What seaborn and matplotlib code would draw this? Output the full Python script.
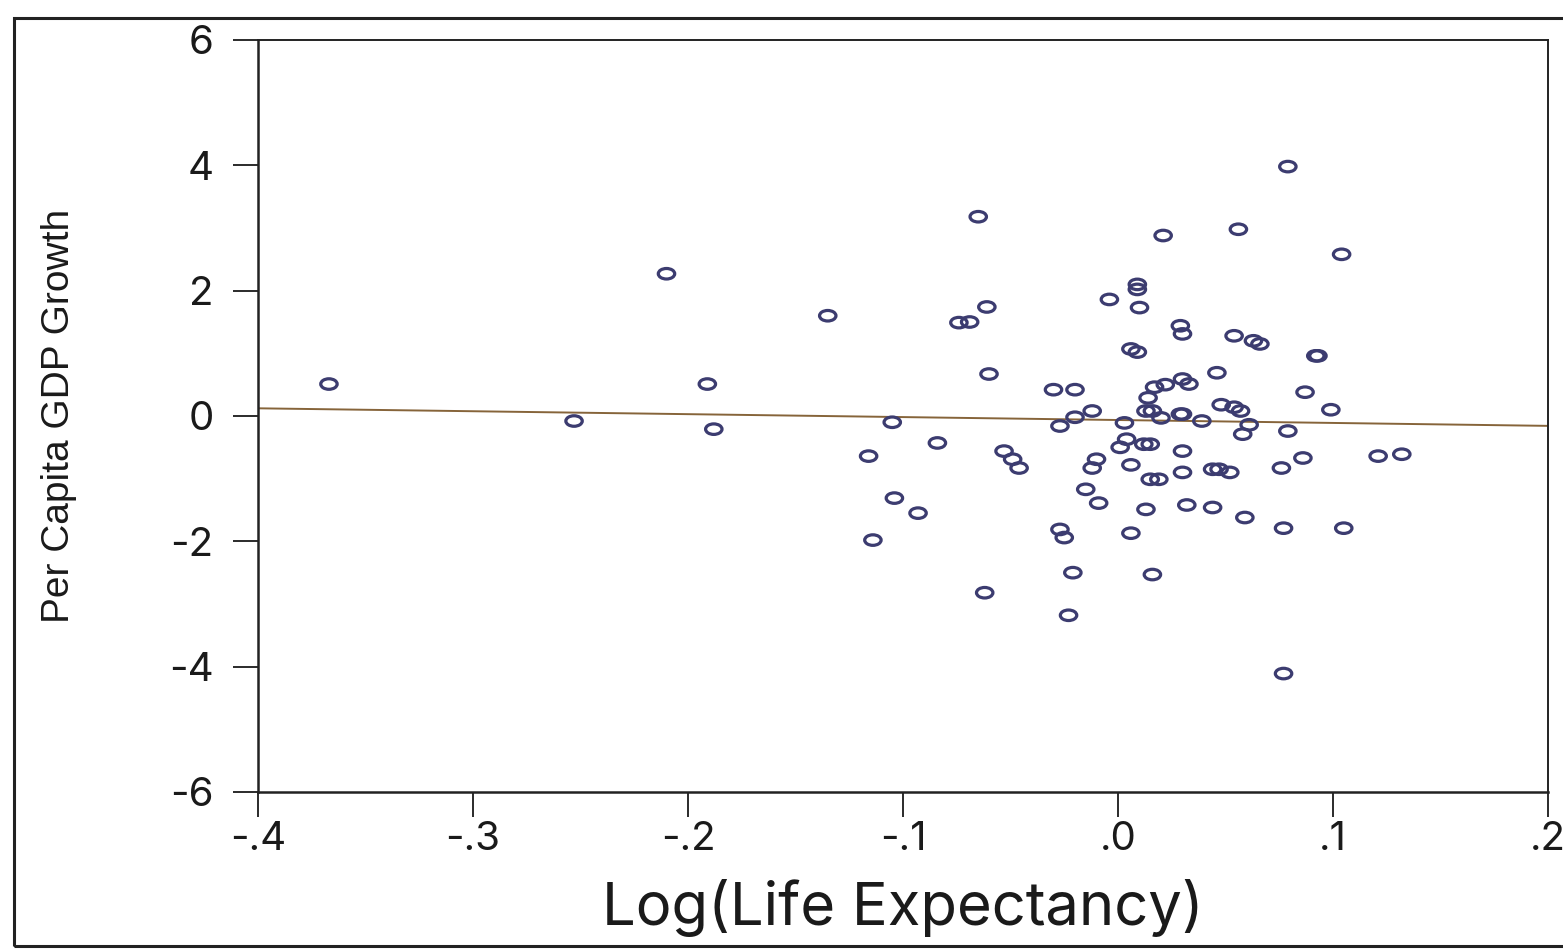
import numpy as np
import pandas as pd
import seaborn as sns
import matplotlib
matplotlib.use("Agg")
import matplotlib.pyplot as plt
from matplotlib.path import Path
from matplotlib.transforms import Affine2D
from matplotlib.patches import Rectangle

# ---- data ----
log_life_exp = [
    -0.367, -0.253, -0.210, -0.191, -0.188, -0.135, -0.116, -0.114, -0.105, -0.104,
    -0.093, -0.084, -0.065, -0.074, -0.069, -0.061, -0.060, -0.062, -0.053, -0.049,
    -0.046, -0.030, -0.020, -0.027, -0.020, -0.012, -0.027, -0.025, -0.021, -0.023,
    -0.015, -0.009, -0.012, -0.010, -0.004, 0.003, 0.001, 0.004, 0.006, 0.006,
    0.006, 0.009, 0.009, 0.009, 0.010, 0.012, 0.013, 0.013, 0.014, 0.016,
    0.015, 0.015, 0.019, 0.016, 0.017, 0.021, 0.022, 0.020, 0.029, 0.030,
    0.030, 0.033, 0.029, 0.030, 0.030, 0.030, 0.032, 0.039, 0.044, 0.044,
    0.047, 0.046, 0.048, 0.052, 0.054, 0.054, 0.057, 0.056, 0.058, 0.059,
    0.061, 0.063, 0.066, 0.079, 0.079, 0.076, 0.077, 0.077, 0.086, 0.087,
    0.092, 0.093, 0.099, 0.104, 0.105, 0.121, 0.132,
]
gdp_growth = [
    0.51, -0.08, 2.27, 0.51, -0.21, 1.60, -0.64, -1.98, -0.10, -1.31,
    -1.55, -0.43, 3.18, 1.49, 1.50, 1.74, 0.67, -2.82, -0.56, -0.69,
    -0.83, 0.42, 0.42, -0.16, -0.02, 0.08, -1.81, -1.94, -2.50, -3.18,
    -1.17, -1.39, -0.83, -0.69, 1.86, -0.11, -0.50, -0.37, -0.78, -1.87,
    1.07, 1.02, 2.10, 2.02, 1.73, -0.45, -1.49, 0.08, 0.29, 0.08,
    -0.45, -1.01, -1.01, -2.53, 0.46, 2.88, 0.50, -0.03, 1.44, 1.31,
    0.59, 0.51, 0.03, 0.03, -0.56, -0.90, -1.42, -0.08, -1.46, -0.85,
    -0.85, 0.69, 0.18, -0.90, 1.28, 0.14, 0.08, 2.98, -0.29, -1.62,
    -0.14, 1.20, 1.15, 3.98, -0.24, -0.83, -1.79, -4.11, -0.67, 0.38,
    0.96, 0.96, 0.10, 2.58, -1.79, -0.64, -0.61,
]
x_ticks = [-0.4, -0.3, -0.2, -0.1, 0.0, 0.1, 0.2]
x_tick_labels = ["-.4", "-.3", "-.2", "-.1", ".0", ".1", ".2"]
y_ticks = [6, 4, 2, 0, -2, -4, -6]
y_tick_labels = ["6", "4", "2", "0", "-2", "-4", "-6"]

df = pd.DataFrame({"x": log_life_exp, "y": gdp_growth})

# ---- style ----
sns.set_style("ticks")
wide_font = ["Inter", "DejaVu Sans"]
plt.rcParams["font.family"] = wide_font

fig = plt.figure(figsize=(15.63, 9.5), dpi=100)
ax = fig.add_axes([258 / 1563, 1 - 792 / 950, (1548 - 258) / 1563, (792 - 40) / 950])

ax.set_xlim(-0.4, 0.2)
ax.set_ylim(-6, 6)

# elliptical hollow marker
ellipse = Path.unit_circle().transformed(Affine2D().scale(1.0, 0.64))

sns.scatterplot(data=df, x="x", y="y", ax=ax, marker=ellipse, s=140,
                facecolors="none", edgecolor="#3c3c70", linewidth=2.3,
                legend=False, zorder=3)
sns.regplot(data=df, x="x", y="y", ax=ax, scatter=False, ci=None,
            truncate=False, line_kws={"color": "#86643a", "linewidth": 1.4})

ax.set_xlim(-0.4, 0.2)
ax.set_ylim(-6, 6)
ax.set_xticks(x_ticks)
ax.set_xticklabels(x_tick_labels)
ax.set_yticks(y_ticks)
ax.set_yticklabels(y_tick_labels)
ax.tick_params(axis="both", direction="out", length=18, width=1.3,
               labelsize=29, colors="#1a1a1a")
ax.tick_params(axis="x", pad=3)
ax.tick_params(axis="y", pad=14)

for side in ["left", "bottom"]:
    ax.spines[side].set_linewidth(1.8)
for side in ["top", "right"]:
    ax.spines[side].set_linewidth(1.4)
for sp in ax.spines.values():
    sp.set_color("#222222")

ax.set_xlabel("Log(Life Expectancy)", fontsize=43, color="#1a1a1a")
ax.xaxis.set_label_coords(0.5, -0.116)
ax.set_ylabel("Per Capita GDP Growth", fontsize=28, color="#1a1a1a",
              family=["Liberation Sans", "DejaVu Sans"])
ax.yaxis.set_label_coords(-0.14, 0.5)

# outer frame of the figure
fig.patches.append(Rectangle((14 / 1563, 1 - 946 / 950), 1.02, (946 - 18) / 950,
                             transform=fig.transFigure, fill=False,
                             edgecolor="#222222", linewidth=2.2, zorder=0))

fig.savefig("out.png", dpi=100)
